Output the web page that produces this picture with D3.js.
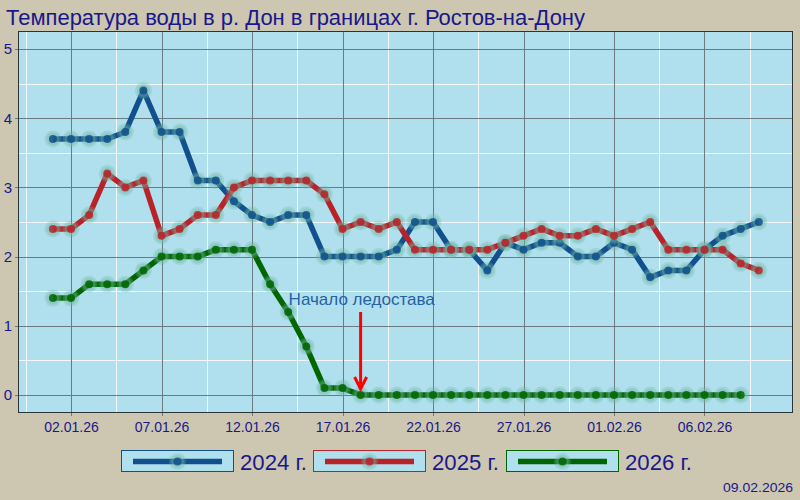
<!DOCTYPE html>
<html><head><meta charset="utf-8">
<script src="https://cdn.jsdelivr.net/npm/d3@7"></script>
<style>
html,body{margin:0;padding:0;background:#cdc6b1;}
svg{display:block;font-family:"Liberation Sans",Arial,sans-serif;}
</style></head>
<body>
<svg id="chart" width="800" height="500"></svg>
<script>
// ---- data ----
const dates = ["01.01.26","02.01.26","03.01.26","04.01.26","05.01.26","06.01.26","07.01.26","08.01.26","09.01.26","10.01.26",
  "11.01.26","12.01.26","13.01.26","14.01.26","15.01.26","16.01.26","17.01.26","18.01.26","19.01.26","20.01.26",
  "21.01.26","22.01.26","23.01.26","24.01.26","25.01.26","26.01.26","27.01.26","28.01.26","29.01.26","30.01.26",
  "31.01.26","01.02.26","02.02.26","03.02.26","04.02.26","05.02.26","06.02.26","07.02.26","08.02.26","09.02.26"];
const values2024 = [3.7,3.7,3.7,3.7,3.8,4.4,3.8,3.8,3.1,3.1,2.8,2.6,2.5,2.6,2.6,2.0,2.0,2.0,2.0,2.1,
  2.5,2.5,2.1,2.1,1.8,2.2,2.1,2.2,2.2,2.0,2.0,2.2,2.1,1.7,1.8,1.8,2.1,2.3,2.4,2.5];
const values2025 = [2.4,2.4,2.6,3.2,3.0,3.1,2.3,2.4,2.6,2.6,3.0,3.1,3.1,3.1,3.1,2.9,2.4,2.5,2.4,2.5,
  2.1,2.1,2.1,2.1,2.1,2.2,2.3,2.4,2.3,2.3,2.4,2.3,2.4,2.5,2.1,2.1,2.1,2.1,1.9,1.8];
const values2026 = [1.4,1.4,1.6,1.6,1.6,1.8,2.0,2.0,2.0,2.1,2.1,2.1,1.6,1.2,0.7,0.1,0.1,0,0,0,
  0,0,0,0,0,0,0,0,0,0,0,0,0,0,0,0,0,0,0];
const seriesNames = ["2024 г.","2025 г.","2026 г."];
const xTickLabels = ["02.01.26","07.01.26","12.01.26","17.01.26","22.01.26","27.01.26","01.02.26","06.02.26"];
const yTickLabels = [0,1,2,3,4,5];
const titleText = "Температура воды в р. Дон в границах г. Ростов-на-Дону";
const annotationText = "Начало ледостава";
const annotationDate = "18.01.26";
const stampText = "09.02.2026";

// ---- setup ----
const colors = ["#11508d","#b8232a","#006600"];
const navy = "#18188c";
const parse = d3.timeParse("%d.%m.%y");
const svg = d3.select("#chart");
const L = 18, R = 793, T = 31, B = 413;
const DAY = 864e5;
const d0 = parse(dates[0]).getTime();
const x = d3.scaleTime()
  .domain([new Date(d0 - 1.93*DAY), new Date(d0 + 40.89*DAY)])
  .range([L, R]);
const y = d3.scaleLinear().domain([-0.26, 5.26]).range([B, T]);

svg.append("rect").attr("width",800).attr("height",500).attr("fill","#cdc6b1");
svg.append("rect").attr("x",L).attr("y",T).attr("width",R-L).attr("height",B-T).attr("fill","#b0dfed");

const g = svg.append("g");
// minor grid (white)
const majorX = xTickLabels.map(parse);
const minorX = [];
for (let k = -1; k < majorX.length; k++) {
  const base = k < 0 ? majorX[0].getTime() - 5*DAY : majorX[k].getTime();
  minorX.push(new Date(base + 2.5*DAY));
}
g.selectAll(".mx").data(minorX).enter().append("line")
  .attr("x1",d=>Math.round(x(d))+0.5).attr("x2",d=>Math.round(x(d))+0.5)
  .attr("y1",T).attr("y2",B).attr("stroke","#f2f8fa").attr("stroke-width",1);
const minorY = d3.range(-0.5, 5.6, 1).filter(v=>v>-0.26&&v<5.26);
g.selectAll(".my").data(minorY).enter().append("line")
  .attr("x1",L).attr("x2",R)
  .attr("y1",d=>Math.round(y(d))+0.5).attr("y2",d=>Math.round(y(d))+0.5)
  .attr("stroke","#f2f8fa").attr("stroke-width",1);
// major grid
g.selectAll(".gx").data(majorX).enter().append("line")
  .attr("x1",d=>Math.round(x(d))+0.5).attr("x2",d=>Math.round(x(d))+0.5)
  .attr("y1",T).attr("y2",B+3).attr("stroke","#6a7c82").attr("stroke-width",1);
g.selectAll(".gy").data(yTickLabels).enter().append("line")
  .attr("x1",L-3).attr("x2",R)
  .attr("y1",d=>Math.round(y(d))+0.5).attr("y2",d=>Math.round(y(d))+0.5)
  .attr("stroke","#6a7c82").attr("stroke-width",1);

// axes labels via d3 axes
const xAxis = d3.axisBottom(x).tickValues(majorX).tickFormat(d3.timeFormat("%d.%m.%y")).tickSize(0).tickPadding(9);
const xg = svg.append("g").attr("transform",`translate(0,${B})`).call(xAxis);
xg.select(".domain").remove();
xg.selectAll("text").attr("fill",navy).attr("font-size",14).attr("font-family","Liberation Sans, Arial, sans-serif");
const yAxis = d3.axisLeft(y).tickValues(yTickLabels).tickFormat(d3.format("d")).tickSize(0).tickPadding(6);
const yg = svg.append("g").attr("transform",`translate(${L},0)`).call(yAxis);
yg.select(".domain").remove();
yg.selectAll("text").attr("fill",navy).attr("font-size",15).attr("font-family","Liberation Sans, Arial, sans-serif");

// frame
svg.append("rect").attr("x",L+0.5).attr("y",T+0.5).attr("width",R-L-1).attr("height",B-T-1)
  .attr("fill","none").attr("stroke","#2a3436").attr("stroke-width",1);

// series
const allSeries = [values2024, values2025, values2026];
const line = d3.line().x(d=>x(d.date)).y(d=>y(d.v)).curve(d3.curveLinear);
const plot = svg.append("g");
function drawMarker(sel, cx, cy, col){
  sel.append("circle").attr("cx",cx).attr("cy",cy).attr("r",8.5).attr("fill","#6fb8a2").attr("opacity",0.28);
  sel.append("circle").attr("cx",cx).attr("cy",cy).attr("r",6.5).attr("fill","#6fb8a2").attr("opacity",0.32);
  sel.append("circle").attr("cx",cx).attr("cy",cy).attr("r",4).attr("fill",col).attr("opacity",0.85);
}
allSeries.forEach((vals, si) => {
  const pts = vals.map((v,i)=>({date: parse(dates[i]), v}));
  plot.append("path").datum(pts).attr("d",line).attr("fill","none")
    .attr("stroke",colors[si]).attr("stroke-width",5.5).attr("stroke-linejoin","round");
});
allSeries.forEach((vals, si) => {
  const mg = plot.append("g");
  vals.forEach((v,i)=>drawMarker(mg, x(parse(dates[i])), y(v), colors[si]));
});

// annotation
const ax = x(parse(annotationDate));
svg.append("text").attr("x",ax-72).attr("y",305).attr("fill","#2462a4").attr("font-size",17)
  .attr("text-anchor","start").text(annotationText);
svg.append("line").attr("x1",ax).attr("x2",ax).attr("y1",312).attr("y2",388)
  .attr("stroke","#ff0000").attr("stroke-width",3);
svg.append("polyline").attr("points",`${ax-6},377 ${ax},389 ${ax+6},377`)
  .attr("fill","none").attr("stroke","#ff0000").attr("stroke-width",3);

// title
svg.append("text").attr("x",6).attr("y",25).attr("fill",navy).attr("font-size",22)
  .attr("textLength",579).attr("lengthAdjust","spacingAndGlyphs").text(titleText);

// legend
const legX = [121, 313, 506];
seriesNames.forEach((name, si) => {
  const lg = svg.append("g").attr("transform",`translate(${legX[si]},450)`);
  lg.append("rect").attr("x",0.5).attr("y",0.5).attr("width",112).attr("height",21)
    .attr("fill","#b0dfed").attr("stroke",colors[si]).attr("stroke-width",1);
  lg.append("line").attr("x1",12).attr("x2",101).attr("y1",11.5).attr("y2",11.5)
    .attr("stroke",colors[si]).attr("stroke-width",5.5);
  drawMarker(lg, 56.5, 11.5, colors[si]);
  lg.append("text").attr("x",119).attr("y",20).attr("fill",navy).attr("font-size",22)
    .attr("textLength",67).attr("lengthAdjust","spacingAndGlyphs").text(name);
});

// stamp
svg.append("text").attr("x",793).attr("y",492).attr("text-anchor","end").attr("fill",navy)
  .attr("font-size",13).attr("textLength",70).attr("lengthAdjust","spacingAndGlyphs").text(stampText);
</script>
</body></html>
